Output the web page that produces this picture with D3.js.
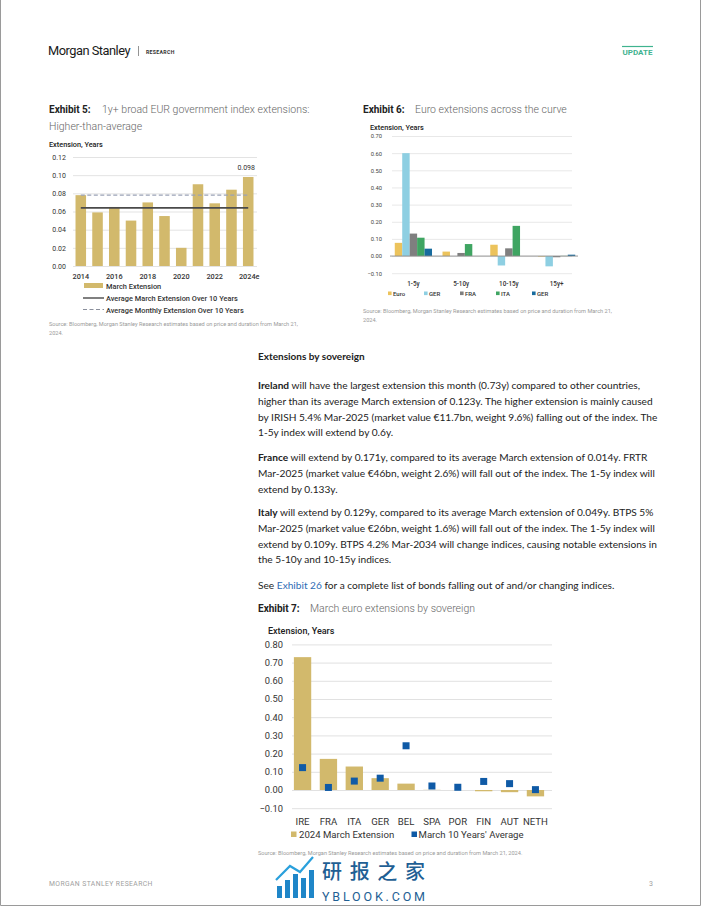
<!DOCTYPE html>
<html>
<head>
<meta charset="utf-8">
<script src="https://cdn.jsdelivr.net/npm/d3@7"></script>
<style>
  html, body { margin: 0; padding: 0; background: #fff; }
  svg { display: block; font-family: Roboto, "Liberation Sans", sans-serif; }
</style>
</head>
<body>
<svg id="page" width="702" height="907"></svg>
<script>
// ---- Exhibit 5 data
const ex5Years = ["2014", "2015", "2016", "2017", "2018", "2019", "2020", "2021", "2022", "2023", "2024e"];
const ex5March = [0.078, 0.059, 0.065, 0.050, 0.070, 0.055, 0.020, 0.090, 0.069, 0.084, 0.098];
const ex5AvgMarch = 0.064;
const ex5AvgMonthly = 0.078;
const ex5Ticks = [0, 0.02, 0.04, 0.06, 0.08, 0.10, 0.12];
const ex5Shown = ["2014", "2016", "2018", "2020", "2022", "2024e"];

// ---- Exhibit 6 data
const ex6Buckets = ["1-5y", "5-10y", "10-15y", "15y+"];
const ex6Names = ["Euro", "GER", "FRA", "ITA", "GER"];
const ex6Euro = [0.077, 0.026, 0.066, -0.003];
const ex6Ger = [0.600, 0.000, -0.055, -0.060];
const ex6Fra = [0.131, 0.018, 0.045, -0.007];
const ex6Ita = [0.107, 0.070, 0.176, 0.001];
const ex6Ger2 = [0.043, 0.000, 0.000, 0.008];
const ex6Ticks = [-0.1, 0, 0.1, 0.2, 0.3, 0.4, 0.5, 0.6, 0.7];

// ---- Exhibit 7 data
const ex7Countries = ["IRE", "FRA", "ITA", "GER", "BEL", "SPA", "POR", "FIN", "AUT", "NETH"];
const ex7March2024 = [0.730, 0.171, 0.129, 0.065, 0.035, 0.001, 0.000, -0.007, -0.012, -0.035];
const ex7TenYearAvg = [0.123, 0.014, 0.049, 0.065, 0.243, 0.022, 0.015, 0.047, 0.035, 0.002];
const ex7Ticks = [-0.1, 0, 0.1, 0.2, 0.3, 0.4, 0.5, 0.6, 0.7, 0.8];

// ---- body text
const bodyParagraphs = [
  [[{b: "Ireland"}, " will have the largest extension this month (0.73y) compared to other countries,"],
   ["higher than its average March extension of 0.123y. The higher extension is mainly caused"],
   ["by IRISH 5.4% Mar-2025 (market value €11.7bn, weight 9.6%) falling out of the index. The"],
   ["1-5y index will extend by 0.6y."]],
  [[{b: "France"}, " will extend by 0.171y, compared to its average March extension of 0.014y. FRTR"],
   ["Mar-2025 (market value €46bn, weight 2.6%) will fall out of the index. The 1-5y index will"],
   ["extend by 0.133y."]],
  [[{b: "Italy"}, " will extend by 0.129y, compared to its average March extension of 0.049y. BTPS 5%"],
   ["Mar-2025 (market value €26bn, weight 1.6%) will fall out of the index. The 1-5y index will"],
   ["extend by 0.109y. BTPS 4.2% Mar-2034 will change indices, causing notable extensions in"],
   ["the 5-10y and 10-15y indices."]],
  [["See ", {link: "Exhibit 26"}, "  for a complete list of bonds falling out of and/or changing indices."]]
];
const sourceLine = "Source: Bloomberg, Morgan Stanley Research estimates based on price and duration from March 21,";

const gold = "#d2b96c";
const svg = d3.select("#page");

// page frame
svg.append("path")
  .attr("d", "M0.5,0 V905.5 H700.5 V0")
  .attr("fill", "none").attr("stroke", "#9a9a9a").attr("stroke-width", 1);

// ---- header
svg.append("text").attr("x", 48).attr("y", 55)
  .attr("font-size", 13).attr("fill", "#1a1a1a").attr("letter-spacing", -0.5)
  .attr("textLength", 82).attr("lengthAdjust", "spacingAndGlyphs")
  .text("Morgan Stanley");
svg.append("line").attr("x1", 138.5).attr("x2", 138.5).attr("y1", 46).attr("y2", 56)
  .attr("stroke", "#666").attr("stroke-width", 0.7);
svg.append("text").attr("x", 146).attr("y", 54)
  .attr("font-size", 5.2).attr("font-weight", 700).attr("fill", "#333").attr("letter-spacing", 0.3)
  .text("RESEARCH");
svg.append("line").attr("x1", 622).attr("x2", 653).attr("y1", 46.5).attr("y2", 46.5)
  .attr("stroke", "#3fb38f").attr("stroke-width", 1.2);
svg.append("text").attr("x", 637.5).attr("y", 55).attr("text-anchor", "middle")
  .attr("font-size", 8).attr("font-weight", 700).attr("fill", "#3fb38f")
  .text("UPDATE");

// helper: exhibit title
function title(x, y, label, sub, subX) {
  svg.append("text").attr("x", x).attr("y", y)
    .attr("font-size", 10).attr("font-weight", 700).attr("fill", "#222").text(label);
  svg.append("text").attr("x", subX).attr("y", y)
    .attr("font-size", 10.5).attr("font-weight", 300).attr("fill", "#666").text(sub);
}

function source(x, y, lines) {
  lines.forEach((t, i) => {
    svg.append("text").attr("x", x).attr("y", y + i * 9)
      .attr("font-size", 5.6).attr("fill", "#9a9a9a").text(t);
  });
}

// =============== Exhibit 5 ===============
title(49, 113, "Exhibit 5:", "1y+ broad EUR government index extensions:", 102);
svg.append("text").attr("x", 49).attr("y", 130)
  .attr("font-size", 10.5).attr("font-weight", 300).attr("fill", "#666").text("Higher-than-average");
svg.append("text").attr("x", 49).attr("y", 147)
  .attr("font-size", 7.3).attr("font-weight", 500).attr("fill", "#222").text("Extension, Years");

const x5 = d3.scaleBand().domain(ex5Years).range([73, 256]).paddingInner(0.37).paddingOuter(0.15);
const y5 = d3.scaleLinear().domain([0, 0.12]).range([266, 157]);

const g5 = svg.append("g");
g5.append("g").attr("transform", "translate(73,0)")
  .call(d3.axisLeft(y5).tickValues(ex5Ticks).tickFormat(d3.format(".2f")).tickSize(-184).tickPadding(7))
  .call(g => g.select(".domain").remove())
  .call(g => g.selectAll(".tick line").attr("stroke", "#dcdcdc").attr("stroke-width", 0.8))
  .call(g => g.selectAll(".tick text").attr("font-size", 7).attr("fill", "#333").attr("font-family", "Roboto"));

g5.selectAll("rect.bar").data(ex5March).join("rect")
  .attr("class", "bar")
  .attr("x", (d, i) => x5(ex5Years[i]))
  .attr("y", d => y5(d))
  .attr("width", x5.bandwidth())
  .attr("height", d => y5(0) - y5(d))
  .attr("fill", gold);

const lx0 = x5(ex5Years[0]) + x5.bandwidth() / 2;
const lx1 = x5(ex5Years[ex5Years.length - 1]) + x5.bandwidth() / 2;
g5.append("line").attr("x1", lx0).attr("x2", lx1)
  .attr("y1", y5(ex5AvgMonthly)).attr("y2", y5(ex5AvgMonthly))
  .attr("stroke", "#9aa2b6").attr("stroke-width", 1.3).attr("stroke-dasharray", "4,2.5");
g5.append("line").attr("x1", lx0).attr("x2", lx1)
  .attr("y1", y5(ex5AvgMarch)).attr("y2", y5(ex5AvgMarch))
  .attr("stroke", "#4a4a4a").attr("stroke-width", 1.6);

const last5 = ex5Years.length - 1;
g5.append("text")
  .attr("x", x5(ex5Years[last5]) + x5.bandwidth() / 2 - 2)
  .attr("y", y5(ex5March[last5]) - 7)
  .attr("text-anchor", "middle").attr("font-size", 7).attr("fill", "#333")
  .text(ex5March[last5].toFixed(3));

g5.selectAll("text.xl").data(ex5Shown).join("text")
  .attr("class", "xl")
  .attr("x", d => x5(d) + x5.bandwidth() / 2 + (d === "2024e" ? 1 : 0))
  .attr("y", 279).attr("text-anchor", "middle")
  .attr("font-size", 7.3).attr("font-weight", 500).attr("fill", "#333").text(d => d);

// legend 5
const leg5 = g5.append("g").attr("font-size", 7.4).attr("font-weight", 500).attr("fill", "#333");
leg5.append("rect").attr("x", 84).attr("y", 283).attr("width", 19).attr("height", 5).attr("fill", gold);
leg5.append("text").attr("x", 106).attr("y", 289).text("March Extension");
leg5.append("line").attr("x1", 83).attr("x2", 104).attr("y1", 298).attr("y2", 298)
  .attr("stroke", "#4a4a4a").attr("stroke-width", 1.4);
leg5.append("text").attr("x", 106).attr("y", 301).text("Average March Extension Over 10 Years");
leg5.append("line").attr("x1", 83).attr("x2", 104).attr("y1", 309.5).attr("y2", 309.5)
  .attr("stroke", "#8a8f9c").attr("stroke-width", 1.2).attr("stroke-dasharray", "4,2.5");
leg5.append("text").attr("x", 106).attr("y", 313).text("Average Monthly Extension Over 10 Years");

source(49, 326, [sourceLine, "2024."]);

// =============== Exhibit 6 ===============
title(363, 113, "Exhibit 6:", "Euro extensions across the curve", 415);
svg.append("text").attr("x", 370).attr("y", 130)
  .attr("font-size", 7.3).attr("font-weight", 500).attr("fill", "#222").text("Extension, Years");

const ex6Colors = ["#ecc35c", "#8ecfe2", "#7f7f7f", "#3fa562", "#176b9e"];
const ex6Series = [ex6Euro, ex6Ger, ex6Fra, ex6Ita, ex6Ger2];
const x6 = d3.scaleBand().domain(ex6Buckets).range([390, 580]).paddingInner(0.22).paddingOuter(0.1);
const x6s = d3.scaleBand().domain(d3.range(ex6Series.length)).range([0, x6.bandwidth()]);
const y6 = d3.scaleLinear().domain([-0.1, 0.7]).range([273.2, 136]);

const g6 = svg.append("g");
g6.append("g").attr("transform", "translate(392,0)")
  .call(d3.axisLeft(y6).tickValues(ex6Ticks).tickFormat(d3.format(".2f")).tickSize(-180).tickPadding(10))
  .call(g => g.select(".domain").remove())
  .call(g => g.selectAll(".tick line").attr("stroke", "#e2e2e2").attr("stroke-width", 0.8))
  .call(g => g.selectAll(".tick text").attr("font-size", 5.8).attr("fill", "#444").attr("font-family", "Roboto"));

ex6Series.forEach((vals, s) => {
  g6.selectAll(null).data(vals).join("rect")
    .attr("x", (d, i) => x6(ex6Buckets[i]) + x6s(s))
    .attr("y", d => y6(Math.max(0, d)))
    .attr("width", x6s.bandwidth())
    .attr("height", d => Math.abs(y6(d) - y6(0)))
    .attr("fill", ex6Colors[s]);
});
g6.append("line").attr("x1", 390).attr("x2", 578).attr("y1", y6(0)).attr("y2", y6(0))
  .attr("stroke", "#8c8c8c").attr("stroke-width", 0.9);

g6.selectAll("text.xl").data(ex6Buckets).join("text")
  .attr("class", "xl")
  .attr("x", d => x6(d) + x6.bandwidth() / 2)
  .attr("y", 285.5).attr("text-anchor", "middle")
  .attr("font-size", 6.3).attr("font-weight", 500).attr("fill", "#333").text(d => d);

ex6Names.forEach((n, i) => {
  const lx = 388 + i * 36;
  g6.append("rect").attr("x", lx).attr("y", 291.5).attr("width", 3.6).attr("height", 3.6).attr("fill", ex6Colors[i]);
  g6.append("text").attr("x", lx + 5).attr("y", 295.5)
    .attr("font-size", 6).attr("font-weight", 500).attr("fill", "#333").text(n);
});

source(363, 313, [sourceLine, "2024."]);

// =============== body text ===============
const body = svg.append("g").attr("font-family", "Lato, 'Open Sans', sans-serif").attr("fill", "#222");
body.append("text").attr("x", 258).attr("y", 360)
  .attr("font-size", 10).attr("font-weight", 700).text("Extensions by sovereign");

const paraStarts = [389, 461, 516, 589];
const lineH = 15.8;
const bodyLines = [];
bodyParagraphs.forEach((p, pi) => {
  p.forEach((segs, li) => {
    const t = body.append("text").attr("x", 258).attr("y", paraStarts[pi] + li * lineH).attr("font-size", 10);
    segs.forEach(s => {
      if (typeof s === "string") t.append("tspan").text(s);
      else if (s.b) t.append("tspan").attr("font-weight", 700).text(s.b);
      else if (s.link) t.append("tspan").attr("fill", "#2f6db5").text(s.link);
    });
    bodyLines.push(t);
  });
});
// fit body font so the full-width line matches the page column
const refW = bodyLines[1].node().getComputedTextLength();
const bodySize = 10 * 395 / refW;
bodyLines.forEach(t => t.attr("font-size", bodySize));

// =============== Exhibit 7 ===============
title(258, 612, "Exhibit 7:", "March euro extensions by sovereign", 310);
svg.append("text").attr("x", 268).attr("y", 634)
  .attr("font-size", 9).attr("font-weight", 500).attr("fill", "#222").text("Extension, Years");

const x7 = d3.scaleBand().domain(ex7Countries).range([290, 548]).paddingInner(0.33).paddingOuter(0.15);
const y7 = d3.scaleLinear().domain([-0.1, 0.8]).range([808.2, 644.4]);

const g7 = svg.append("g");
g7.append("g").attr("transform", "translate(292,0)")
  .call(d3.axisLeft(y7).tickValues(ex7Ticks).tickFormat(d3.format(".2f")).tickSize(-260).tickPadding(9))
  .call(g => g.select(".domain").remove())
  .call(g => g.selectAll(".tick line").attr("stroke", "#dedede").attr("stroke-width", 0.9))
  .call(g => g.selectAll(".tick text").attr("font-size", 9.3).attr("fill", "#333").attr("font-family", "Roboto"));

g7.selectAll("rect.bar").data(ex7March2024).join("rect")
  .attr("class", "bar")
  .attr("x", (d, i) => x7(ex7Countries[i]))
  .attr("y", d => y7(Math.max(0, d)))
  .attr("width", x7.bandwidth())
  .attr("height", d => Math.abs(y7(d) - y7(0)))
  .attr("fill", gold);

const mk = 7;
g7.selectAll("rect.mk").data(ex7TenYearAvg).join("rect")
  .attr("class", "mk")
  .attr("x", (d, i) => x7(ex7Countries[i]) + x7.bandwidth() / 2 - mk / 2)
  .attr("y", d => y7(d) - mk / 2)
  .attr("width", mk).attr("height", mk)
  .attr("fill", "#0f5aa6");

g7.selectAll("text.xl").data(ex7Countries).join("text")
  .attr("class", "xl")
  .attr("x", d => x7(d) + x7.bandwidth() / 2)
  .attr("y", 825).attr("text-anchor", "middle")
  .attr("font-size", 9.6).attr("fill", "#333").text(d => d);

g7.append("rect").attr("x", 291).attr("y", 831.5).attr("width", 5.5).attr("height", 5.5).attr("fill", gold);
g7.append("text").attr("x", 299).attr("y", 838).attr("font-size", 9.6).attr("fill", "#333").text("2024 March Extension");
g7.append("rect").attr("x", 411.5).attr("y", 831.5).attr("width", 5.5).attr("height", 5.5).attr("fill", "#0f5aa6");
g7.append("text").attr("x", 418.5).attr("y", 838).attr("font-size", 9.6).attr("fill", "#333").text("March 10 Years' Average");

source(258, 855, ["Source: Bloomberg, Morgan Stanley Research estimates based on price and duration from March 21, 2024."]);

// ---- footer
svg.append("text").attr("x", 49).attr("y", 886)
  .attr("font-size", 6.8).attr("fill", "#a0a0a0").attr("letter-spacing", 0.4)
  .text("MORGAN STANLEY RESEARCH");
svg.append("text").attr("x", 651).attr("y", 886).attr("text-anchor", "middle")
  .attr("font-size", 7).attr("fill", "#a0a0a0").text("3");

// watermark
const wm = svg.append("g").attr("fill", "#1f86c8");
[[277, 886, 5, 12], [285, 880, 5, 18], [293, 874, 5, 24], [301, 878, 5, 20], [309, 870, 5, 28]]
  .forEach(r => wm.append("rect").attr("x", r[0]).attr("y", r[1]).attr("width", r[2]).attr("height", r[3]));
wm.append("path").attr("d", "M276,880 L290,866 L300,872 L313,857")
  .attr("fill", "none").attr("stroke", "#2aa0dc").attr("stroke-width", 2.2);
wm.append("text").attr("x", 322).attr("y", 879)
  .attr("font-family", "'Noto Sans CJK SC'").attr("font-size", 20).attr("font-weight", 500).attr("fill", "#1f5f94")
  .attr("textLength", 103).text("研报之家");
wm.append("text").attr("x", 322).attr("y", 901)
  .attr("font-size", 12.5).attr("fill", "#1f5f94").attr("textLength", 103).text("YBLOOK.COM");
</script>
</body>
</html>
